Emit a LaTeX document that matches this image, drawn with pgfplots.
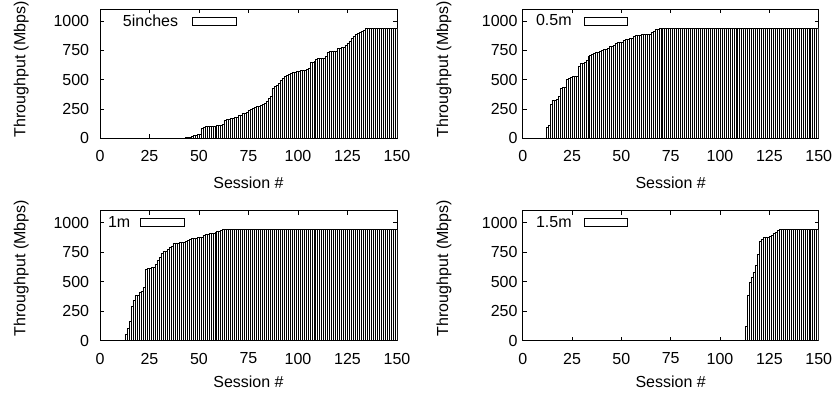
\documentclass[border=0pt]{standalone}
\usepackage{fontspec}
\setmainfont{Liberation Sans}
\usepackage{pgfplots}
\usepackage{pgfplotstable}
\pgfplotsset{compat=1.18}

\newcommand\fs{\fontsize{16bp}{19bp}\selectfont}

% one value per session (1..150) plus a closing value for ybar interval
\pgfplotstableread[row sep=\\]{
y\\
0\\ 0\\ 0\\ 0\\ 0\\ 0\\ 0\\ 0\\ 0\\ 0\\
0\\ 0\\ 0\\ 0\\ 0\\ 0\\ 0\\ 0\\ 0\\ 0\\
0\\ 0\\ 0\\ 0\\ 0\\ 0\\ 0\\ 0\\ 0\\ 0\\
0\\ 0\\ 0\\ 0\\ 0\\ 0\\ 0\\ 0\\ 0\\ 0\\
1\\ 2\\ 3\\ 5\\ 8\\ 12\\ 18\\ 25\\ 28\\ 30\\
33\\ 85\\ 95\\ 100\\ 100\\ 101\\ 102\\ 104\\ 105\\ 107\\
110\\ 112\\ 118\\ 150\\ 158\\ 162\\ 168\\ 172\\ 178\\ 182\\
192\\ 200\\ 210\\ 215\\ 222\\ 235\\ 248\\ 258\\ 265\\ 270\\
276\\ 285\\ 292\\ 300\\ 318\\ 338\\ 355\\ 430\\ 440\\ 448\\
470\\ 495\\ 515\\ 530\\ 540\\ 548\\ 555\\ 560\\ 565\\ 570\\
574\\ 577\\ 580\\ 582\\ 585\\ 600\\ 645\\ 650\\ 660\\ 675\\
680\\ 682\\ 684\\ 686\\ 700\\ 735\\ 738\\ 740\\ 742\\ 745\\
765\\ 770\\ 772\\ 775\\ 790\\ 810\\ 830\\ 850\\ 870\\ 885\\
898\\ 905\\ 915\\ 920\\ 935\\ 940\\ 942\\ 942\\ 942\\ 942\\
942\\ 942\\ 942\\ 942\\ 942\\ 942\\ 942\\ 942\\ 942\\ 942\\
942\\
}\dataA

\pgfplotstableread[row sep=\\]{
y\\
0\\ 0\\ 0\\ 0\\ 0\\ 0\\ 0\\ 0\\ 0\\ 0\\
0\\ 0\\ 90\\ 113\\ 292\\ 320\\ 326\\ 330\\ 360\\ 430\\
432\\ 435\\ 500\\ 515\\ 520\\ 528\\ 530\\ 532\\ 617\\ 637\\
640\\ 650\\ 665\\ 700\\ 708\\ 712\\ 728\\ 732\\ 736\\ 740\\
750\\ 755\\ 760\\ 765\\ 780\\ 785\\ 793\\ 810\\ 815\\ 820\\
822\\ 835\\ 841\\ 846\\ 850\\ 855\\ 870\\ 875\\ 878\\ 880\\
885\\ 887\\ 887\\ 888\\ 890\\ 900\\ 915\\ 929\\ 932\\ 935\\
940\\ 942\\ 942\\ 942\\ 942\\ 942\\ 942\\ 942\\ 942\\ 942\\
942\\ 942\\ 942\\ 942\\ 942\\ 942\\ 942\\ 942\\ 942\\ 942\\
942\\ 942\\ 942\\ 942\\ 942\\ 942\\ 942\\ 942\\ 942\\ 942\\
942\\ 942\\ 942\\ 942\\ 942\\ 942\\ 942\\ 942\\ 942\\ 942\\
942\\ 942\\ 942\\ 942\\ 942\\ 942\\ 942\\ 942\\ 942\\ 942\\
942\\ 942\\ 942\\ 942\\ 942\\ 942\\ 942\\ 942\\ 942\\ 942\\
942\\ 942\\ 942\\ 942\\ 942\\ 942\\ 942\\ 942\\ 942\\ 942\\
942\\ 942\\ 942\\ 942\\ 942\\ 942\\ 942\\ 942\\ 942\\ 942\\
942\\
}\dataB

\pgfplotstableread[row sep=\\]{
y\\
0\\ 0\\ 0\\ 0\\ 0\\ 0\\ 0\\ 0\\ 0\\ 0\\
0\\ 0\\ 0\\ 50\\ 106\\ 162\\ 288\\ 344\\ 385\\ 388\\
408\\ 419\\ 455\\ 603\\ 609\\ 612\\ 618\\ 623\\ 650\\ 679\\
707\\ 743\\ 754\\ 760\\ 771\\ 790\\ 800\\ 824\\ 827\\ 828\\
830\\ 832\\ 835\\ 838\\ 852\\ 855\\ 866\\ 868\\ 870\\ 872\\
874\\ 876\\ 894\\ 896\\ 898\\ 905\\ 908\\ 912\\ 916\\ 924\\
926\\ 930\\ 940\\ 940\\ 940\\ 940\\ 940\\ 940\\ 940\\ 940\\
940\\ 940\\ 940\\ 940\\ 940\\ 940\\ 940\\ 940\\ 940\\ 940\\
940\\ 940\\ 940\\ 940\\ 940\\ 940\\ 940\\ 940\\ 940\\ 940\\
940\\ 940\\ 940\\ 940\\ 940\\ 940\\ 940\\ 940\\ 940\\ 940\\
940\\ 940\\ 940\\ 940\\ 940\\ 940\\ 940\\ 940\\ 940\\ 940\\
940\\ 940\\ 940\\ 940\\ 940\\ 940\\ 940\\ 940\\ 940\\ 940\\
940\\ 940\\ 940\\ 940\\ 940\\ 940\\ 940\\ 940\\ 940\\ 940\\
940\\ 940\\ 940\\ 940\\ 940\\ 940\\ 940\\ 940\\ 940\\ 940\\
940\\ 940\\ 940\\ 940\\ 940\\ 940\\ 940\\ 940\\ 940\\ 940\\
940\\
}\dataC

\pgfplotstableread[row sep=\\]{
y\\
0\\ 0\\ 0\\ 0\\ 0\\ 0\\ 0\\ 0\\ 0\\ 0\\
0\\ 0\\ 0\\ 0\\ 0\\ 0\\ 0\\ 0\\ 0\\ 0\\
0\\ 0\\ 0\\ 0\\ 0\\ 0\\ 0\\ 0\\ 0\\ 0\\
0\\ 0\\ 0\\ 0\\ 0\\ 0\\ 0\\ 0\\ 0\\ 0\\
0\\ 0\\ 0\\ 0\\ 0\\ 0\\ 0\\ 0\\ 0\\ 0\\
0\\ 0\\ 0\\ 0\\ 0\\ 0\\ 0\\ 0\\ 0\\ 0\\
0\\ 0\\ 0\\ 0\\ 0\\ 0\\ 0\\ 0\\ 0\\ 0\\
0\\ 0\\ 0\\ 0\\ 0\\ 0\\ 0\\ 0\\ 0\\ 0\\
0\\ 0\\ 0\\ 0\\ 0\\ 0\\ 0\\ 0\\ 0\\ 0\\
0\\ 0\\ 0\\ 0\\ 0\\ 0\\ 0\\ 0\\ 0\\ 0\\
0\\ 0\\ 0\\ 0\\ 0\\ 0\\ 0\\ 0\\ 0\\ 0\\
0\\ 0\\ 0\\ 120\\ 388\\ 494\\ 534\\ 579\\ 640\\ 730\\
837\\ 860\\ 871\\ 874\\ 876\\ 879\\ 893\\ 907\\ 921\\ 930\\
940\\ 940\\ 940\\ 940\\ 940\\ 940\\ 940\\ 940\\ 940\\ 940\\
940\\ 940\\ 940\\ 940\\ 940\\ 940\\ 940\\ 940\\ 940\\ 940\\
940\\
}\dataD

\pgfplotsset{
  panel/.style n args={5}{% #1 ytick label gap, #2 legend x (rel), #3 legend gap, #4 xlabel drop, #5 ylabel raise
    scale only axis, width=297bp, height=129bp, anchor=south west,
    xmin=0, xmax=150, ymin=0, ymax=1100,
    xtick={0,25,...,150}, ytick={0,250,...,1000},
    tick align=inside, major tick length=4bp,
    every tick/.style={black, line width=0.7bp},
    axis line style={line width=0.9bp},
    /pgf/number format/assume math mode=true,
    /pgf/number format/1000 sep={},
    ticklabel style={font=\fs},
    xticklabel style={inner sep=0pt, anchor=north, yshift=-12bp},
    yticklabel style={inner sep=0pt, anchor=east, xshift=-#1},
    xlabel={Session \#},
    ylabel={Throughput (Mbps)},
    every axis x label/.style={at={([yshift=-#4]axis description cs:0.5,0)}, anchor=north, inner sep=0pt, font=\fs},
    every axis y label/.style={at={([xshift=-71bp,yshift=#5]axis description cs:0,0.5)}, rotate=90, anchor=south, inner sep=0pt, font=\fs},
    legend plot pos=right,
    legend cell align=left,
    legend style={draw=none, fill=none, inner sep=0pt, outer sep=0pt, font=\fs,
      at={(#2,0.909)}, anchor=west, nodes={inner sep=0pt}},
    legend image code/.code={\path (0bp,0bp); \draw[black, fill=white, line width=0.8bp] (#3,-4bp) rectangle ++(43.5bp,8bp);},
  },
  bars/.style={ybar interval, fill=white, draw=black, line width=0.65bp},
}

\begin{document}
\begin{tikzpicture}
\path[use as bounding box] (0,0) rectangle (836bp,398bp);

\begin{axis}[panel={10.7bp}{0.0774}{14bp}{38bp}{4.5bp}, at={(100bp,259.7bp)}]
\addplot[bars] table[x expr=\coordindex, y=y] {\dataA};
\addlegendentry{5inches}
\end{axis}

\begin{axis}[panel={5bp}{0.045}{12bp}{38bp}{4.5bp}, at={(522.7bp,259.7bp)}, width=296bp]
\addplot[bars] table[x expr=\coordindex, y=y] {\dataB};
\addlegendentry{0.5m}
\end{axis}

\begin{axis}[panel={10.7bp}{0.027}{10bp}{35bp}{7.5bp}, at={(100bp,57.3bp)}, height=130bp]
\addplot[bars] table[x expr=\coordindex, y=y] {\dataC};
\addlegendentry{1m}
\end{axis}

\begin{axis}[panel={5bp}{0.045}{12bp}{35bp}{7.5bp}, at={(522.7bp,57.3bp)}, width=296bp, height=130bp]
\addplot[bars] table[x expr=\coordindex, y=y] {\dataD};
\addlegendentry{1.5m}
\end{axis}
\end{tikzpicture}
\end{document}
